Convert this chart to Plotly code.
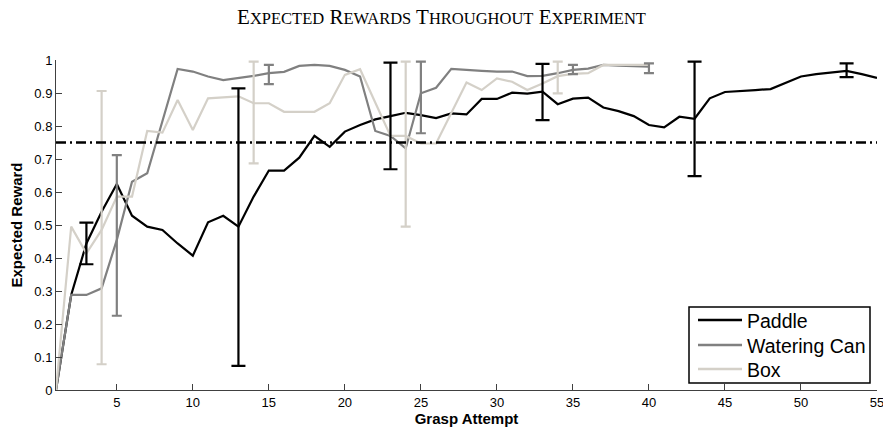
import plotly.graph_objects as go

# ---------------- data ----------------
attempts_paddle = list(range(1, 56))
paddle = [0.00, 0.288, 0.444, 0.54, 0.624, 0.528, 0.495, 0.485, 0.444, 0.407,
          0.508, 0.528, 0.495, 0.586, 0.665, 0.665, 0.704, 0.77, 0.737, 0.783,
          0.803, 0.82, 0.83, 0.84, 0.833, 0.824, 0.838, 0.835, 0.882, 0.882,
          0.901, 0.898, 0.904, 0.866, 0.883, 0.886, 0.856, 0.845, 0.83, 0.803,
          0.796, 0.828, 0.822, 0.884, 0.903, 0.905, 0.909, 0.912, 0.93, 0.95,
          0.957, 0.961, 0.967, 0.957, 0.946]

attempts_can = list(range(1, 41))
watering_can = [0.00, 0.288, 0.288, 0.308, 0.455, 0.631, 0.657, 0.815, 0.973, 0.965,
                0.95, 0.939, 0.945, 0.952, 0.96, 0.964, 0.982, 0.985, 0.982, 0.97,
                0.95, 0.785, 0.77, 0.732, 0.899, 0.916, 0.973, 0.969, 0.967, 0.965,
                0.965, 0.951, 0.952, 0.96, 0.97, 0.974, 0.985, 0.983, 0.981, 0.98]

attempts_box = list(range(1, 41))
box = [0.00, 0.495, 0.414, 0.485, 0.586, 0.586, 0.785, 0.78, 0.879, 0.788,
       0.884, 0.886, 0.89, 0.869, 0.869, 0.843, 0.843, 0.843, 0.869, 0.955,
       0.972, 0.87, 0.77, 0.77, 0.747, 0.747, 0.838, 0.932, 0.909, 0.944,
       0.934, 0.909, 0.929, 0.951, 0.958, 0.96, 0.985, 0.985, 0.985, 0.985]

# error bars: attempt, lower bound, upper bound
paddle_err_x = [3, 13, 23, 33, 43, 53]
paddle_err_lo = [0.381, 0.073, 0.669, 0.818, 0.648, 0.948]
paddle_err_hi = [0.507, 0.914, 0.992, 0.988, 0.995, 0.99]

can_err_x = [5, 15, 25, 35, 40]
can_err_lo = [0.225, 0.927, 0.778, 0.957, 0.96]
can_err_hi = [0.712, 0.985, 0.995, 0.985, 0.99]

box_err_x = [4, 14, 24, 34]
box_err_lo = [0.078, 0.687, 0.495, 0.899]
box_err_hi = [0.906, 0.995, 0.995, 0.995]

threshold = 0.75
x_ticks = [5, 10, 15, 20, 25, 30, 35, 40, 45, 50, 55]
y_ticks = [0, 0.1, 0.2, 0.3, 0.4, 0.5, 0.6, 0.7, 0.8, 0.9, 1]

# ---------------- styles / layout geometry ----------------
C_PADDLE = "#000000"
C_CAN = "#808080"
C_BOX = "#d4d0c8"
W, H = 883, 427
ML, MR, MT, MB = 56, 6, 60, 37
PW, PH = W - ML - MR, H - MT - MB


def px_x(p):
    return (p - ML) / PW


def px_y(p):
    return (H - MB - p) / PH


fig = go.Figure()

series = [
    ("Paddle", attempts_paddle, paddle, C_PADDLE, paddle_err_x, paddle_err_lo, paddle_err_hi, 7),
    ("Watering Can", attempts_can, watering_can, C_CAN, can_err_x, can_err_lo, can_err_hi, 5),
    ("Box", attempts_box, box, C_BOX, box_err_x, box_err_lo, box_err_hi, 5),
]

for name, xs, ys, col, ex, elo, ehi, cap in series:
    fig.add_trace(go.Scatter(x=xs, y=ys, mode="lines", name=name,
                             line=dict(color=col, width=2.2),
                             cliponaxis=False, showlegend=False))

for name, xs, ys, col, ex, elo, ehi, cap in series:
    ey = [ys[xs.index(v)] for v in ex]
    fig.add_trace(go.Scatter(
        x=ex, y=ey, mode="markers", showlegend=False,
        marker=dict(size=1, opacity=0, color=col),
        error_y=dict(type="data", symmetric=False,
                     array=[h - y for h, y in zip(ehi, ey)],
                     arrayminus=[y - l for l, y in zip(elo, ey)],
                     color=col, thickness=2.2, width=cap),
        cliponaxis=False, hoverinfo="skip"))

fig.add_trace(go.Scatter(x=[1, 55], y=[threshold, threshold], mode="lines",
                         showlegend=False,
                         line=dict(color="#000000", width=2.4, dash="10px,4px,2px,4px")))

# ---------------- legend (drawn box) ----------------
shapes = [dict(type="rect", xref="paper", yref="paper",
               x0=px_x(689), x1=px_x(870), y0=px_y(383), y1=px_y(307),
               line=dict(color="#000000", width=1.5), fillcolor="white", layer="above")]
annotations = []
row_y = [320, 345, 369]
for (name, xs, ys, col, ex, elo, ehi, cap), ry in zip(series, row_y):
    shapes.append(dict(type="line", xref="paper", yref="paper",
                       x0=px_x(698), x1=px_x(742), y0=px_y(ry), y1=px_y(ry),
                       line=dict(color=col, width=2.6), layer="above"))
    annotations.append(dict(text=name, xref="paper", yref="paper",
                            x=px_x(745), y=px_y(ry + 1), xanchor="left", yanchor="middle",
                            showarrow=False,
                            font=dict(size=19.5, color="#000000",
                                      family="Liberation Sans, Arial, sans-serif")))

sc = "font-size:16.5px"
title_txt = ("E<span style='%s'>XPECTED</span> R<span style='%s'>EWARDS</span> "
             "T<span style='%s'>HROUGHOUT</span> E<span style='%s'>XPERIMENT</span>") % (sc, sc, sc, sc)

fig.update_layout(
    width=W, height=H,
    margin=dict(l=ML, r=MR, t=MT, b=MB, autoexpand=False),
    paper_bgcolor="white", plot_bgcolor="white",
    font=dict(family="Liberation Sans, Arial, sans-serif", size=13, color="#000000"),
    title=dict(text=title_txt, x=0.5, xanchor="center", y=0.96, yanchor="middle",
               yref="container", automargin=False,
               font=dict(family="Liberation Serif, serif", size=21, color="#000000")),
    xaxis=dict(range=[1, 55], tickvals=x_ticks, ticks="inside", ticklen=6,
               tickcolor="#404040", showline=True, linecolor="#404040", linewidth=1,
               showgrid=False, zeroline=False, automargin=False,
               ticklabeloverflow="allow",
               tickfont=dict(size=13),
               title=dict(text="<b>Grasp Attempt</b>", font=dict(size=15), standoff=0)),
    yaxis=dict(range=[0, 1], tickvals=y_ticks, ticks="inside", ticklen=6,
               tickcolor="#404040", showline=True, linecolor="#404040", linewidth=1,
               showgrid=False, zeroline=False, automargin=False,
               ticklabeloverflow="allow",
               tickfont=dict(size=13),
               title=dict(text="<b>Expected Reward</b>", font=dict(size=15), standoff=8)),
    shapes=shapes,
    annotations=annotations,
    showlegend=False,
)

fig.write_html("out.html", config={"displayModeBar": False},
               post_script="document.body.style.margin='0';document.body.style.overflow='hidden';")
